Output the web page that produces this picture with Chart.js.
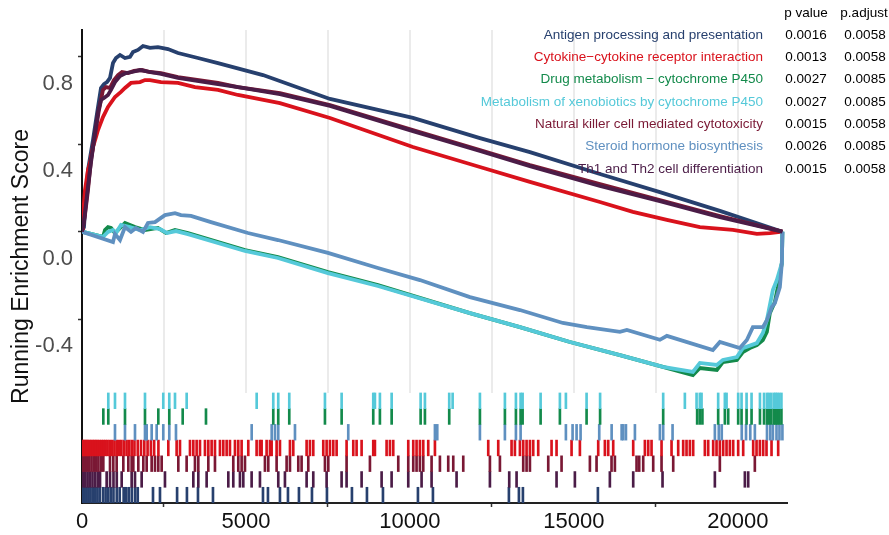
<!DOCTYPE html>
<html>
<head>
<meta charset="utf-8">
<script src="https://cdn.jsdelivr.net/npm/chart.js@4.4.1/dist/chart.umd.min.js"></script>
<style>
  html, body { margin: 0; padding: 0; background: #fff; }
  #wrap { width: 889px; height: 535px; }
</style>
</head>
<body>
<div id="wrap"><canvas id="gsea" width="889" height="535"></canvas></div>
<script>
// gene sets, in legend order
var pathways = ['Antigen processing and presentation', 'Cytokine\u2212cytokine receptor interaction',
  'Drug metabolism \u2212 cytochrome P450', 'Metabolism of xenobiotics by cytochrome P450',
  'Natural killer cell mediated cytotoxicity', 'Steroid hormone biosynthesis', 'Th1 and Th2 cell differentiation'];
var pValues = ['0.0016', '0.0013', '0.0027', '0.0027', '0.0015', '0.0026', '0.0015'];
var pAdjust = ['0.0058', '0.0058', '0.0085', '0.0085', '0.0058', '0.0085', '0.0058'];
var colors = ['#27406e', '#d9121c', '#138a4b', '#55c9d9', '#7a1834', '#5f90c0', '#4b1c47'];

var xTicks = [0, 5000, 10000, 15000, 20000];
var yTicks = [-0.4, 0, 0.4, 0.8];

// running enrichment score, rank position / score
var antigenRank = [0, 61, 122, 183, 274, 335, 427, 488, 579, 671, 762, 854, 945, 1037, 1159, 1311, 1464, 1555, 1707, 1860, 2073, 2317, 2622, 2927, 3537, 4147, 5519, 7562, 10092, 12135, 13660, 15794, 17623, 19453, 21360];
var antigenES = [0, 0.021, 0.168, 0.282, 0.364, 0.419, 0.511, 0.570, 0.657, 0.675, 0.684, 0.703, 0.771, 0.794, 0.808, 0.794, 0.799, 0.821, 0.831, 0.849, 0.840, 0.844, 0.835, 0.817, 0.794, 0.771, 0.716, 0.607, 0.520, 0.428, 0.364, 0.264, 0.181, 0.095, 0];

var cytokineRank = [0, 30, 91, 183, 244, 335, 427, 488, 640, 793, 1006, 1189, 1311, 1494, 1768, 1921, 2073, 2409, 2927, 3445, 4147, 4756, 6037, 7562, 10092, 12135, 13660, 15794, 16800, 17837, 18843, 19849, 20581, 20977, 21360];
var cytokineES = [0, 0.076, 0.191, 0.282, 0.314, 0.387, 0.433, 0.465, 0.524, 0.570, 0.616, 0.639, 0.657, 0.680, 0.684, 0.693, 0.693, 0.684, 0.680, 0.661, 0.648, 0.625, 0.588, 0.520, 0.387, 0.296, 0.228, 0.136, 0.091, 0.054, 0.021, 0.008, -0.010, -0.006, 0];

var drugRank = [0, 640, 701, 793, 884, 1006, 1311, 1616, 1921, 2317, 2561, 2836, 3232, 4970, 5976, 7501, 9025, 11830, 13355, 14879, 16404, 17715, 18630, 18843, 19361, 19544, 19971, 20154, 20367, 20581, 20764, 20886, 20977, 21130, 21221, 21343, 21360];
var drugES = [0, -0.024, 0.008, 0.021, 0.017, -0.006, 0.040, 0.021, 0.008, 0.017, -0.006, 0.008, -0.006, -0.084, -0.116, -0.184, -0.244, -0.372, -0.436, -0.504, -0.564, -0.618, -0.655, -0.623, -0.632, -0.596, -0.586, -0.550, -0.532, -0.518, -0.495, -0.458, -0.372, -0.321, -0.253, -0.143, 0];

var xenoRank = [0, 640, 793, 945, 1037, 1189, 1464, 1768, 2073, 2378, 2592, 2866, 3232, 4970, 5976, 7501, 9025, 11830, 13355, 14879, 16404, 17715, 18630, 18843, 19361, 19544, 19971, 20154, 20581, 20764, 20886, 21069, 21191, 21343, 21360];
var xenoES = [0, -0.024, -0.001, 0.008, -0.006, 0.031, 0.021, 0.008, 0.021, 0.012, -0.006, 0.003, -0.011, -0.088, -0.120, -0.189, -0.248, -0.372, -0.436, -0.504, -0.564, -0.618, -0.641, -0.600, -0.609, -0.586, -0.573, -0.532, -0.509, -0.463, -0.404, -0.267, -0.221, -0.143, 0];

var nkRank = [0, 91, 183, 274, 396, 518, 640, 732, 854, 976, 1098, 1220, 1403, 1585, 1829, 2073, 2409, 2927, 4147, 4756, 6037, 7562, 10092, 12135, 13660, 15794, 17623, 19453, 21360];
var nkES = [0, 0.076, 0.191, 0.328, 0.442, 0.556, 0.648, 0.661, 0.657, 0.693, 0.716, 0.730, 0.725, 0.735, 0.739, 0.730, 0.725, 0.707, 0.680, 0.661, 0.634, 0.579, 0.465, 0.373, 0.305, 0.218, 0.145, 0.072, 0];

var steroidRank = [0, 945, 1006, 1159, 1311, 1494, 1646, 1860, 2012, 2226, 2409, 2531, 2836, 3018, 3323, 3933, 5061, 5976, 7501, 9025, 10306, 11830, 13355, 14666, 15398, 16404, 16617, 17623, 17837, 19239, 19453, 20062, 20276, 20459, 20764, 20886, 21038, 21130, 21282, 21343, 21360];
var steroidES = [0, -0.047, -0.011, -0.038, 0.021, -0.001, 0.017, -0.001, 0.040, 0.044, 0.063, 0.076, 0.085, 0.076, 0.072, 0.044, -0.006, -0.038, -0.097, -0.166, -0.221, -0.299, -0.358, -0.417, -0.436, -0.458, -0.449, -0.494, -0.476, -0.541, -0.504, -0.532, -0.495, -0.436, -0.436, -0.404, -0.344, -0.326, -0.253, -0.143, 0];

var th12Rank = [0, 61, 152, 244, 366, 488, 579, 671, 793, 884, 1006, 1159, 1341, 1525, 1768, 2073, 2409, 2927, 4147, 4756, 6037, 7562, 10092, 12135, 13660, 15794, 17623, 19453, 21360];
var th12ES = [0, 0.044, 0.168, 0.282, 0.419, 0.547, 0.602, 0.611, 0.625, 0.648, 0.684, 0.712, 0.725, 0.730, 0.739, 0.730, 0.721, 0.703, 0.675, 0.661, 0.629, 0.575, 0.460, 0.369, 0.300, 0.209, 0.140, 0.067, 0];

// gene hit positions for the rug
var antigenHits = [30, 80, 140, 200, 260, 330, 400, 470, 540, 640, 720, 800, 880, 960, 1060, 1150, 1270, 1350, 1430, 1520, 1620, 1700, 2165, 2378, 2900, 3200, 3537, 3994, 5519, 5671, 6037, 6281, 6616, 7013, 7470, 8232, 8690, 9178, 10245, 10702, 13019, 13324, 13446, 15733];
var cytokineHits = [20, 60, 100, 140, 180, 230, 280, 330, 380, 430, 480, 540, 600, 660, 720, 780, 850, 920, 990, 1060, 1130, 1200, 1280, 1360, 1440, 1520, 1600, 1700, 1800, 1900, 2000, 2100, 2200, 2330,
  2632, 2886, 2988, 3293, 3395, 3496, 3598, 3750, 3852, 3953, 4055, 4207, 4309, 4411, 4512, 4665, 4766, 4868, 5071, 5325, 5427, 5478, 5630, 5732, 5783, 5935, 6037, 6342, 6443, 6850, 6951, 7053, 7358, 7460, 7561, 7663, 7765, 8069, 8273, 8374, 8527, 8882, 8933, 9289, 9391, 9492, 9950, 10102, 10203, 10305, 10407, 10559, 10763,
  12389, 12694, 13100, 13202, 13355, 13456, 13558, 13660, 13761, 13913, 14320, 14472, 14930, 15184, 15743, 15946, 16048, 16200, 16810, 17166, 17268, 17369, 17674, 17979, 18182, 18334, 18436, 18538, 18639, 18995, 19097, 19249, 19351, 19452, 19554, 19656, 19757, 19859, 20011, 20164, 20469, 20571, 20672, 20774, 20875, 21028, 21231];
var drugHits = [650, 802, 1311, 1921, 2327, 2662, 3071, 3781, 5833, 5985, 6321, 7409, 7918, 8882, 9085, 9443, 10327, 10458, 11199, 12135, 12897, 13233, 13376, 13437, 13986, 14574, 15388, 15800, 17724, 18760, 18840, 18920, 19401, 19605, 19707, 20011, 20114, 20267, 20419, 20675, 20800, 20890, 20950, 21020, 21100, 21150, 21200, 21260, 21330];
var xenoHits = [802, 1006, 1311, 1921, 2479, 2662, 2836, 3192, 5327, 5833, 5985, 6321, 7409, 7918, 8882, 8933, 9085, 9443, 10327, 10458, 11199, 11303, 12135, 12897, 13233, 13376, 13437, 13986, 14574, 14757, 15388, 15800, 17724, 18385, 18742, 18842, 18894, 19401, 19605, 19657, 20011, 20114, 20267, 20419, 20675, 20800, 20890, 20950, 21020, 21100, 21150, 21200, 21260, 21330];
var nkHits = [40, 90, 150, 220, 290, 360, 430, 500, 580, 650, 854, 955, 1057, 1260, 1413, 1514, 1565, 1717, 1870, 1972, 2124, 2226, 2327, 2429, 2937, 3191, 3445, 3547, 3852, 4055, 4614, 4766, 4868, 4970, 5579, 5681, 5935, 6240, 6342, 6596, 6697, 6901, 7409, 7511, 8069, 8781, 9645, 9950, 10102, 10203, 10305, 10407, 10661, 10915, 11169, 11322, 11627,
  12440, 12745, 13456, 13558, 13660, 14219, 14625, 15489, 15692, 16149, 16251, 16912, 16993, 17115, 17420, 17674, 18030, 19452, 20519];
var steroidHits = [1006, 1311, 1616, 1921, 1973, 2125, 2277, 2479, 2662, 2866, 5175, 5785, 5885, 5985, 6495, 8120, 10763, 10834, 12135, 12897, 13233, 13376, 14757, 14961, 15083, 15205, 15774, 16152, 16457, 16506, 16588, 16862, 17624, 17724, 18010, 19300, 19420, 19510, 20120, 20250, 20380, 20520, 20890, 20990, 21070, 21180, 21270, 21360];
var th12Hits = [40, 100, 170, 240, 320, 400, 480, 550, 752, 855, 960, 1060, 1210, 1514, 1616, 1819, 2530, 3395, 3547, 3801, 4462, 4614, 4817, 4919, 5173, 5427, 5986, 6189, 6850, 7053, 7460, 7917, 8069, 8527, 9137, 9442, 9950, 10356, 10661, 11423,
  12440, 13029, 13253, 14472, 15031, 16098, 16810, 17704, 19300, 20215, 20317];

var curveRanks = [antigenRank, cytokineRank, drugRank, xenoRank, nkRank, steroidRank, th12Rank];
var curveES = [antigenES, cytokineES, drugES, xenoES, nkES, steroidES, th12ES];
var hits = [antigenHits, cytokineHits, drugHits, xenoHits, nkHits, steroidHits, th12Hits];
// rug rows from top to bottom (index into pathways)
var rugOrder = [3, 2, 5, 1, 4, 6, 0];

var yMin = -1.24, yMax = 0.922;
var rugTop = -0.737;
var rugRow = (rugTop - yMin) / rugOrder.length;

var datasets = [];
for (var i = 0; i < pathways.length; i++) {
  var pts = [];
  for (var k = 0; k < curveRanks[i].length; k++) pts.push({x: curveRanks[i][k], y: curveES[i][k]});
  datasets.push({
    type: 'line', label: pathways[i], data: pts,
    borderColor: colors[i], borderWidth: 3.8, pointRadius: 0, tension: 0,
    order: 20 - i
  });
}
rugOrder.forEach(function(p, row) {
  var hi = rugTop - row * rugRow, lo = hi - rugRow;
  datasets.push({
    type: 'bar', label: pathways[p] + ' hits',
    data: hits[p].map(function(h) { return {x: h, y: [lo, hi]}; }),
    backgroundColor: colors[p], borderWidth: 0, barThickness: 2,
    grouped: false, order: 30
  });
});

var gridPlugin = {
  id: 'panelGrid',
  beforeDatasetsDraw: function(chart) {
    var ctx = chart.ctx, xs = chart.scales.x, ys = chart.scales.y;
    var bottom = ys.getPixelForValue(rugTop);
    ctx.save();
    ctx.strokeStyle = '#ebebeb';
    ctx.lineWidth = 2;
    for (var v = 2500; v <= 20000; v += 2500) {
      var px = Math.round(xs.getPixelForValue(v));
      ctx.beginPath();
      ctx.moveTo(px, chart.chartArea.top);
      ctx.lineTo(px, bottom);
      ctx.stroke();
    }
    ctx.restore();
  }
};

var tablePlugin = {
  id: 'pvalTable',
  afterDraw: function(chart) {
    var ctx = chart.ctx;
    ctx.save();
    ctx.font = '13.5px "Liberation Sans", Arial, sans-serif';
    ctx.textBaseline = 'middle';
    ctx.fillStyle = '#000';
    ctx.textAlign = 'center';
    ctx.fillText('p value', 806, 13);
    ctx.fillText('p.adjust', 864, 13);
    for (var i = 0; i < pathways.length; i++) {
      var y = 35 + i * 22.35;
      ctx.textAlign = 'right';
      ctx.fillStyle = colors[i];
      ctx.fillText(pathways[i], 763, y);
      ctx.textAlign = 'center';
      ctx.fillStyle = '#000';
      ctx.fillText(pValues[i], 806, y);
      ctx.fillText(pAdjust[i], 865, y);
    }
    ctx.restore();
  }
};

new Chart(document.getElementById('gsea'), {
  type: 'line',
  data: { datasets: datasets },
  options: {
    responsive: false,
    animation: false,
    layout: { padding: { top: 30, right: 102, left: 0, bottom: 0 } },
    plugins: { legend: { display: false }, tooltip: { enabled: false } },
    scales: {
      x: {
        type: 'linear', min: 0, max: 21500, offset: false,
        afterBuildTicks: function(s) { s.ticks = xTicks.map(function(v) { return {value: v}; }); },
        afterFit: function(s) { s.height = 32; },
        grid: { drawOnChartArea: false, tickLength: 4, tickColor: '#333', tickWidth: 1.5 },
        border: { color: '#222', width: 2 },
        ticks: { color: '#111', padding: 2, maxRotation: 0,
          font: { family: '"Liberation Sans", Arial, sans-serif', size: 22 },
          callback: function(v) { return String(v); } }
      },
      y: {
        type: 'linear', min: yMin, max: yMax,
        afterBuildTicks: function(s) { s.ticks = yTicks.map(function(v) { return {value: v}; }); },
        afterFit: function(s) { s.width = 82; },
        grid: { drawOnChartArea: false, tickLength: 4, tickColor: '#333', tickWidth: 1.5 },
        border: { color: '#111', width: 2 },
        ticks: { color: '#4d4d4d', padding: 5, labelOffset: 27,
          font: { family: '"Liberation Sans", Arial, sans-serif', size: 22 },
          callback: function(v) { return (v < 0 ? '-' : '') + Math.abs(v).toFixed(1); } },
        title: { display: true, text: 'Running Enrichment Score', color: '#111',
          padding: { top: 8, bottom: 0 },
          font: { family: '"Liberation Sans", Arial, sans-serif', size: 23 } }
      }
    }
  },
  plugins: [gridPlugin, tablePlugin]
});
</script>
</body>
</html>
